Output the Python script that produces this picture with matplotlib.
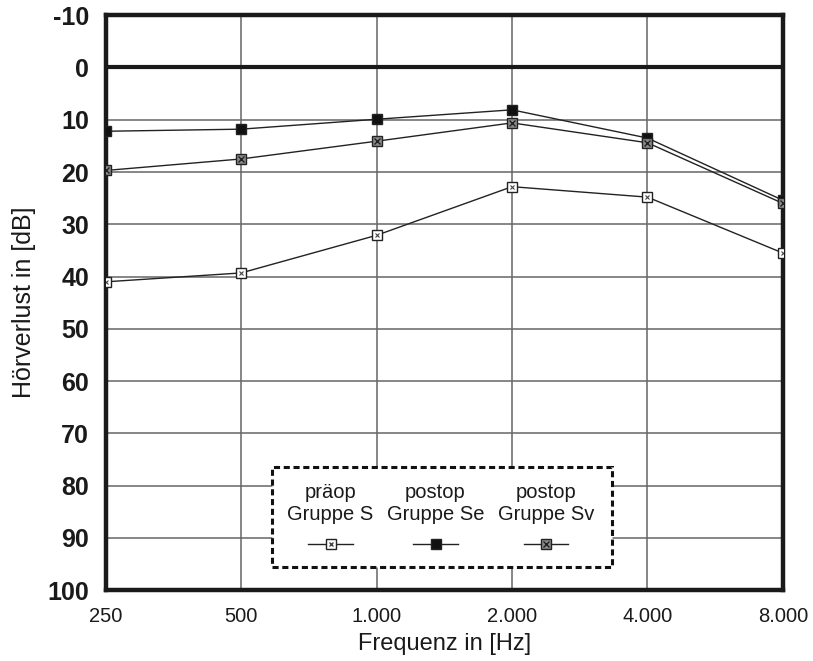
import numpy as np
import matplotlib.pyplot as plt
from matplotlib.lines import Line2D
from matplotlib.patches import Rectangle

plt.rcParams['font.family'] = ['Liberation Sans', 'DejaVu Sans']

freqs = [250, 500, 1000, 2000, 4000, 8000]
freq_labels = ["250", "500", "1.000", "2.000", "4.000", "8.000"]

praeop_s = [41.0, 39.3, 32.1, 22.8, 24.8, 35.5]
postop_se = [12.2, 11.8, 9.9, 8.1, 13.5, 25.4]
postop_sv = [19.7, 17.5, 14.1, 10.6, 14.4, 26.0]

series_names = ["präop\nGruppe S", "postop\nGruppe Se", "postop\nGruppe Sv"]

fig = plt.figure(figsize=(8.13, 6.61), dpi=100)
ax = fig.add_axes([0.130, 0.107, 0.833, 0.870])

ax.set_xscale("log", base=2)
ax.set_xlim(250, 8000)
ax.set_ylim(100, -10)

ax.set_xticks(freqs)
ax.set_xticklabels(freq_labels, fontsize=14.5, color="#1a1a1a")
ax.set_yticks(np.arange(-10, 101, 10))
ax.set_yticklabels([str(v) for v in range(-10, 101, 10)], fontsize=18,
                   fontweight="bold", color="#1a1a1a")
ax.minorticks_off()
ax.tick_params(axis="y", length=0, pad=12)
ax.tick_params(axis="x", length=0, pad=12)

ax.grid(True, color="#666666", linewidth=1.1)
ax.set_axisbelow(True)
ax.axhline(0, color="#1a1a1a", linewidth=3.0, zorder=2)

for sp in ax.spines.values():
    sp.set_linewidth(3.2)
    sp.set_color("#1a1a1a")

line_kw = dict(color="#222222", linewidth=1.0, markersize=7, markeredgewidth=1.0,
               markeredgecolor="#222222", zorder=3)

# präop: white square with small cross inside
ax.plot(freqs, praeop_s, marker="s", markerfacecolor="white", **line_kw)
ax.plot(freqs, praeop_s, linestyle="none", marker="x", markersize=3.5,
        markeredgewidth=0.8, color="#444444", zorder=4)
# postop Se: filled black square
ax.plot(freqs, postop_se, marker="s", markerfacecolor="#111111", **line_kw)
# postop Sv: checkered (grey) square
ax.plot(freqs, postop_sv, marker="s", markerfacecolor="#8a8a8a", **line_kw)
ax.plot(freqs, postop_sv, linestyle="none", marker="x", markersize=5,
        markeredgewidth=1.0, color="#222222", zorder=4)

ax.set_xlabel("Frequenz in [Hz]", fontsize=17, color="#1a1a1a")
ax.set_ylabel("Hörverlust in [dB]", fontsize=18, color="#1a1a1a")
ax.xaxis.set_label_coords(0.5, -0.074)
ax.yaxis.set_label_coords(-0.103, 0.5)

# legend box drawn by hand
box = Rectangle((0.245, 0.040), 0.502, 0.174, transform=ax.transAxes,
                facecolor="white", edgecolor="#111111", linewidth=2.2,
                linestyle=(0, (2, 1.2)), zorder=5)
ax.add_patch(box)

leg_x = [0.332, 0.487, 0.650]
handles = [
    dict(mfc="white", inner=("x", 3.5, "#444444")),
    dict(mfc="#111111", inner=None),
    dict(mfc="#8a8a8a", inner=("x", 5, "#222222")),
]
for x, name, h in zip(leg_x, series_names, handles):
    ax.text(x, 0.151, name, transform=ax.transAxes, ha="center", va="center",
            fontsize=14.5, linespacing=1.15, color="#1a1a1a", zorder=6)
    ax.add_line(Line2D([x - 0.033, x + 0.033], [0.080, 0.080], transform=ax.transAxes,
                       color="#222222", linewidth=1.0, zorder=6))
    ax.add_line(Line2D([x], [0.080], transform=ax.transAxes, marker="s",
                       markersize=7, markerfacecolor=h["mfc"],
                       markeredgecolor="#222222", linestyle="none", zorder=7))
    if h["inner"]:
        m, s, c = h["inner"]
        ax.add_line(Line2D([x], [0.080], transform=ax.transAxes, marker=m,
                           markersize=s, color=c, linestyle="none", zorder=8))

fig.savefig("out.png", dpi=100)
